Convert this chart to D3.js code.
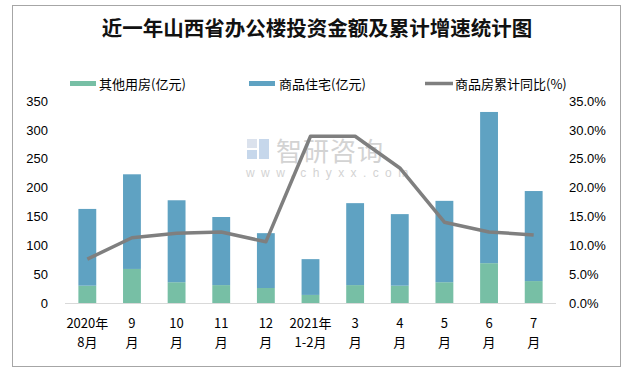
<!DOCTYPE html>
<html><head><meta charset="utf-8">
<script src="https://cdn.jsdelivr.net/npm/d3@7"></script>
<style>body{margin:0;background:#fff}svg{display:block}</style>
</head><body>
<svg id="c" width="628" height="372"></svg>
<script>
const categories = ["2020年|8月","9|月","10|月","11|月","12|月","2021年|1-2月","3|月","4|月","5|月","6|月","7|月"];
const otherHousing = [30, 59, 36, 31, 26, 14, 31, 30, 36, 69, 38];
const residential = [133, 164, 142, 118, 95, 62, 142, 124, 141, 262, 156];
const growthPct = [7.6, 11.3, 12.1, 12.3, 10.6, 28.9, 28.9, 23.4, 14.0, 12.3, 11.8];
const leftTicks = [0, 50, 100, 150, 200, 250, 300, 350];
const rightTicks = [0, 5, 10, 15, 20, 25, 30, 35];
const seriesNames = ["其他用房(亿元)", "商品住宅(亿元)", "商品房累计同比(%)"];
const title = "近一年山西省办公楼投资金额及累计增速统计图";

const svg = d3.select("#c");
const numFont = "'Liberation Sans','Noto Sans CJK SC',sans-serif";
const cjkFont = "'Noto Sans CJK SC','Liberation Sans',sans-serif";
const green = "#77bfa5", blue = "#5fa2c2", gray = "#7f7f7f";

// frame
svg.append("rect").attr("x", 12.5).attr("y", 5.5).attr("width", 608).attr("height", 361)
  .attr("fill", "#fff").attr("stroke", "#a6a6a6");

// title
svg.append("text").attr("x", 317).attr("y", 36).attr("text-anchor", "middle")
  .attr("font-family", cjkFont).attr("font-size", 20.5).attr("font-weight", 600)
  .attr("fill", "#111").text(title);

const x = d3.scaleBand().domain(categories).range([65, 556]).paddingInner(0.6).paddingOuter(0.3);
const y = d3.scaleLinear().domain([0, 350]).range([303, 101]);
const y2 = d3.scaleLinear().domain([0, 35]).range([303, 101]);

// watermark
const wm = svg.append("g").attr("opacity", 0.5);
wm.append("rect").attr("x", 247).attr("y", 139).attr("width", 10).attr("height", 9).attr("fill", "#b8c6dc");
wm.append("rect").attr("x", 259).attr("y", 139).attr("width", 10).attr("height", 20).attr("fill", "#8fb0d8");
wm.append("rect").attr("x", 247).attr("y", 150).attr("width", 10).attr("height", 9).attr("fill", "#8fb0d8");
wm.append("text").attr("x", 276).attr("y", 161).attr("font-family", cjkFont).attr("font-size", 26)
  .attr("fill", "#a8a8a8").attr("letter-spacing", 1).text("智研咨询");
wm.append("text").attr("x", 246).attr("y", 177).attr("font-family", numFont).attr("font-size", 12)
  .attr("fill", "#a8a8a8").attr("letter-spacing", 6.4).text("www.chyxx.com");

// bars
const g = svg.append("g");
g.selectAll(".o").data(categories).join("rect")
  .attr("x", d => x(d)).attr("width", x.bandwidth())
  .attr("y", (d, i) => y(otherHousing[i])).attr("height", (d, i) => y(0) - y(otherHousing[i]))
  .attr("fill", green);
g.selectAll(".r").data(categories).join("rect")
  .attr("x", d => x(d)).attr("width", x.bandwidth())
  .attr("y", (d, i) => y(otherHousing[i] + residential[i]))
  .attr("height", (d, i) => y(otherHousing[i]) - y(otherHousing[i] + residential[i]))
  .attr("fill", blue);

// baseline
svg.append("line").attr("x1", 65).attr("x2", 556).attr("y1", 303.5).attr("y2", 303.5)
  .attr("stroke", "#d9d9d9");

// line
const line = d3.line().x((d, i) => x(categories[i]) + x.bandwidth() / 2).y(d => y2(d));
svg.append("path").datum(growthPct).attr("d", line).attr("fill", "none")
  .attr("stroke", gray).attr("stroke-width", 3.5).attr("stroke-linejoin", "round");

// left axis
const ya = svg.append("g").attr("transform", "translate(65,0)")
  .call(d3.axisLeft(y).tickValues(leftTicks).tickSize(0).tickPadding(17));
ya.select(".domain").remove();
ya.selectAll("text").attr("font-family", numFont).attr("font-size", 13).attr("fill", "#000");

// right axis
const yb = svg.append("g").attr("transform", "translate(556,0)")
  .call(d3.axisRight(y2).tickValues(rightTicks).tickSize(0).tickPadding(13).tickFormat(d => d.toFixed(1) + "%"));
yb.select(".domain").remove();
yb.selectAll("text").attr("font-family", numFont).attr("font-size", 13).attr("fill", "#000");

// x labels
const xl = svg.append("g");
categories.forEach(c => {
  const parts = c.split("|");
  const cx = x(c) + x.bandwidth() / 2;
  const t = xl.append("text").attr("text-anchor", "middle").attr("font-family", cjkFont)
    .attr("font-size", 13).attr("fill", "#000");
  t.append("tspan").attr("x", cx).attr("y", 328).text(parts[0]);
  t.append("tspan").attr("x", cx).attr("y", 347).text(parts[1]);
});

// legend
const lg = svg.append("g").attr("font-family", cjkFont).attr("font-size", 13);
lg.append("rect").attr("x", 70).attr("y", 81).attr("width", 26).attr("height", 5).attr("fill", green);
lg.append("text").attr("x", 99).attr("y", 88.5).text(seriesNames[0]);
lg.append("rect").attr("x", 249).attr("y", 81).attr("width", 26).attr("height", 5).attr("fill", blue);
lg.append("text").attr("x", 279).attr("y", 88.5).text(seriesNames[1]);
lg.append("line").attr("x1", 425).attr("x2", 453).attr("y1", 83.5).attr("y2", 83.5)
  .attr("stroke", gray).attr("stroke-width", 3.5);
lg.append("text").attr("x", 455).attr("y", 88.5).text(seriesNames[2]);
</script>
</body></html>
